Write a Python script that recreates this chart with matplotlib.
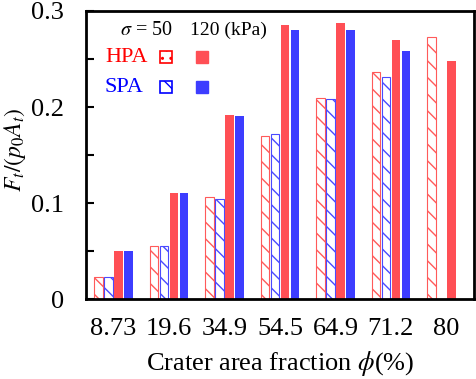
import numpy as np
import matplotlib
matplotlib.use("Agg")
import matplotlib.pyplot as plt
from matplotlib.patches import Rectangle

plt.rcParams['font.family'] = ['Liberation Serif', 'DejaVu Serif']
plt.rcParams['mathtext.fontset'] = 'stix'
plt.rcParams['hatch.linewidth'] = 1.0

categories = ['8.73', '19.6', '34.9', '54.5', '64.9', '71.2', '80']
hpa_50 = [0.023, 0.055, 0.106, 0.170, 0.209, 0.236, 0.273]
spa_50 = [0.023, 0.055, 0.104, 0.172, 0.208, 0.231, np.nan]
hpa_120 = [0.050, 0.110, 0.192, 0.285, 0.287, 0.270, 0.248]
spa_120 = [0.050, 0.110, 0.191, 0.280, 0.280, 0.258, np.nan]

red = '#FF4F55'
blue = '#3D3DFF'
red_h = '#FF5A5A'
blue_h = '#4A4AFF'

fig = plt.figure(figsize=(4.77, 3.79), dpi=100)
ax = fig.add_subplot(111)
fig.subplots_adjust(left=0.180, right=0.994, bottom=0.211, top=0.971)

x = np.arange(len(categories))
w = 0.15
ax.bar(x - 0.27, hpa_50, w, facecolor='white', edgecolor=red_h, hatch='\\\\', linewidth=0.8)
ax.bar(x - 0.09, spa_50, w, facecolor='white', edgecolor=blue_h, hatch='\\\\', linewidth=0.8)
ax.bar(x + 0.09, hpa_120, w, color=red)
ax.bar(x + 0.27, spa_120, w, color=blue)

ax.set_xlim(-0.5, 6.5)
ax.set_ylim(0, 0.3)
ax.set_xticks(x)
ax.set_xticklabels(categories, fontsize=19)
ax.tick_params(axis='x', length=0, pad=14)
ax.set_yticks([0, 0.1, 0.2, 0.3])
ax.set_yticklabels(['0', '0.1', '0.2', '0.3'], fontsize=19)
ax.set_yticks([0.05, 0.15, 0.25], minor=True)
ax.tick_params(axis='y', which='both', direction='in', length=6, width=1.5, pad=16)
for s in ax.spines.values():
    s.set_linewidth(2)

ax.set_xlabel(r'Crater area fraction $\phi$(%)', fontsize=19, labelpad=6)
ax.set_ylabel(r'$F_t/(p_0A_t)$', fontsize=17)
ax.yaxis.set_label_coords(-0.15, 0.52)

# custom legend
ax.text(0.088, 0.934, r'$\sigma$ = 50', transform=ax.transAxes,
        fontsize=14.5, va='center', ha='left')
ax.text(0.268, 0.934, '120 (kPa)', transform=ax.transAxes,
        fontsize=14, va='center', ha='left')
ax.text(0.049, 0.840, 'HPA', transform=ax.transAxes, fontsize=16,
        color='#FF0000', va='center', ha='left')
ax.text(0.049, 0.736, 'SPA', transform=ax.transAxes, fontsize=16,
        color='#0000FF', va='center', ha='left')
sw, sh = 0.031, 0.042
ax.add_patch(Rectangle((0.191, 0.840 - sh / 2), sw, sh, transform=ax.transAxes,
                       facecolor='white', edgecolor='#FF0000', hatch='..', linewidth=1.2))
ax.add_patch(Rectangle((0.284, 0.840 - sh / 2), sw, sh, transform=ax.transAxes,
                       color=red))
ax.add_patch(Rectangle((0.191, 0.736 - sh / 2), sw, sh, transform=ax.transAxes,
                       facecolor='white', edgecolor='#0000FF', hatch='\\\\', linewidth=1.2))
ax.add_patch(Rectangle((0.284, 0.736 - sh / 2), sw, sh, transform=ax.transAxes,
                       color=blue))

fig.savefig('out.png', dpi=100)
